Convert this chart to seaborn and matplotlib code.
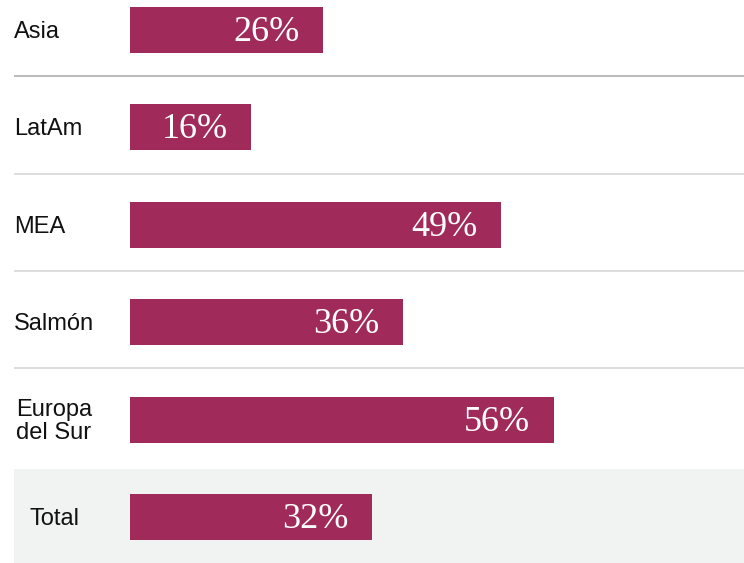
import matplotlib
matplotlib.use("Agg")
import matplotlib.pyplot as plt
import matplotlib.transforms as mtransforms
import seaborn as sns
import pandas as pd

categories = ["Asia", "LatAm", "MEA", "Salmón", "Europa\ndel Sur", "Total"]
values = [25.5, 16, 49, 36, 56, 32]
value_labels = ["26%", "16%", "49%", "36%", "56%", "32%"]

BAR_COLOR = "#A02B5B"
BAND_COLOR = "#F1F2F2"

sns.set_theme(style="white")
plt.rcParams["font.family"] = ["Liberation Sans", "DejaVu Sans"]

df = pd.DataFrame({"cat": categories, "val": values})

W, H = 744, 563
fig = plt.figure(figsize=(W / 100, H / 100), dpi=100)
ax = fig.add_axes([14 / W, 0, 730 / W, 1])

# gray band for total row
ax.axhspan(4.507, 6, color=BAND_COLOR, zorder=0, lw=0)

sns.barplot(data=df, x="val", y="cat", orient="h", color=BAR_COLOR,
            saturation=1, width=0.472, ax=ax, zorder=2, linewidth=0)

px_per = 7.57
ax.set_xlim(-116 / px_per, 730 / px_per - 116 / px_per)
ax.set_ylim(5.473, -0.308)

# separators
for i, c in enumerate(["#B5B5B5", "#DADADA", "#DADADA", "#DADADA"]):
    ax.axhline(i + 0.475, color=c, lw=1.3, zorder=1)

# category labels
trans = mtransforms.blended_transform_factory(ax.transAxes, ax.transData)
xoffs = [0, 0, 0, 0, 2, 16]
for i, (cat, xo) in enumerate(zip(categories, xoffs)):
    ax.text(xo / 730, i + 0.02, cat, transform=trans, ha="left", va="center",
            fontsize=17, color="#111111", linespacing=1.1)

# value labels
for i, (v, lab) in enumerate(zip(values, value_labels)):
    ax.annotate(lab, xy=(v, i), xytext=(-17, -1.8), textcoords="offset points",
                ha="right", va="center", color="white", fontsize=26,
                family=["Liberation Serif", "DejaVu Serif"], zorder=3)

ax.set_xlabel("")
ax.set_ylabel("")
ax.set_xticks([])
ax.set_yticks([])
for s in ax.spines.values():
    s.set_visible(False)
ax.patch.set_alpha(0)

fig.savefig("out.png", dpi=100)
